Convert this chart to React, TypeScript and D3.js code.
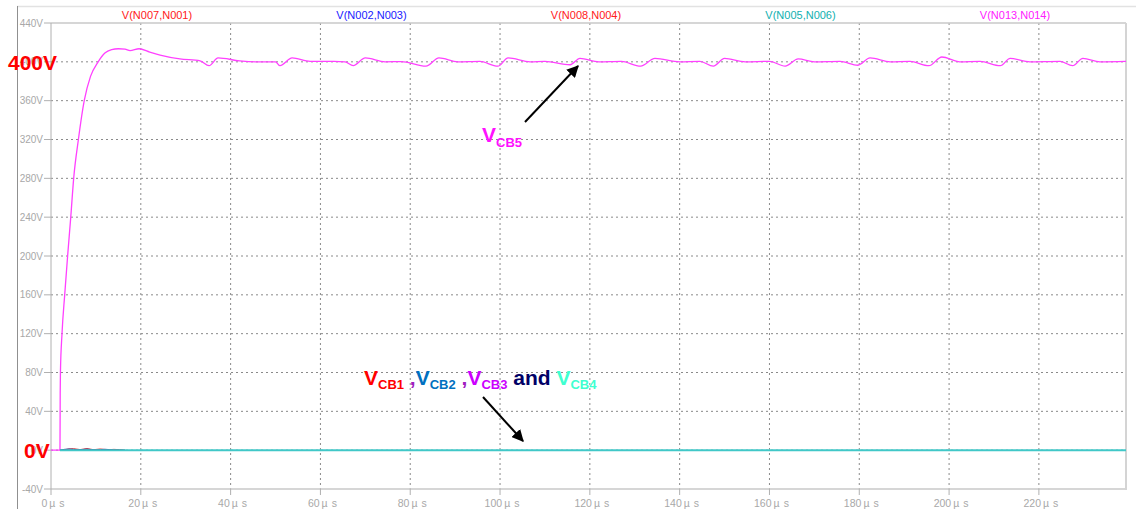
import React from "react";
import * as d3 from "d3";

const W = 1136;
const H = 509;

// time (µs), voltage (V)
const vcb5Time = [0, 2.0, 2.05, 2.1, 2.45, 3.05, 3.7, 4.4, 5.05, 6.1, 7.4, 8.8, 10.5, 12, 13.5, 15, 16.5, 17.6, 19.6, 22, 24.3, 28.7, 33.2, 35.2, 37.2, 42, 46, 50, 51, 53.7, 57.7, 63, 65.5, 67.3, 70, 74.4, 78, 83.5, 86.4, 90.6, 95.5, 99.5, 101.8, 106.7, 110, 115.6, 117.8, 122, 127, 131.3, 134.5, 140, 144.5, 147.5, 150, 154.6, 160, 163.5, 166.4, 170, 175.7, 179.7, 182.4, 186.9, 191.3, 195.5, 198.4, 202.4, 206.9, 211.4, 213.6, 218, 224.7, 227.5, 229.8, 233.6, 239.4];
const vcb5Volt = [0, 0, 58, 80, 120, 160, 200, 240, 280, 320, 360, 385, 400, 409, 412.5, 413.5, 413, 411.5, 413.5, 410, 407, 403, 401, 396, 404, 401, 400, 400, 396, 404, 400.5, 400.5, 400, 396, 404, 400, 400.3, 395.5, 404, 400, 400.5, 395.5, 404, 400, 400.5, 397, 403.5, 400, 400.5, 395.5, 403.5, 400, 400.5, 395.5, 403.5, 400, 400.5, 395.5, 403, 400, 400.5, 396.5, 404, 400, 400.5, 396, 405, 400, 400.5, 396, 403.5, 400, 400.5, 396, 403.5, 400, 400.5];

const redTime = [2.0, 3.5, 5, 6.5, 8, 9.5, 11, 12.5, 14, 16.5];
const redVolt = [0, 0.8, 1.5, 0.6, 1.6, 0.5, 1.2, 0.4, 0.8, 0];
const blueTime = [2.0, 4, 6, 8, 10, 12, 14, 16.5];
const blueVolt = [0, 1.2, 0.4, 1.0, 0.3, 0.9, 0.2, 0];
const tealTime = [2.0, 239.4];
const tealVolt = [0, 0];

const yTicks = [-40, 0, 40, 80, 120, 160, 200, 240, 280, 320, 360, 400, 440];
const xTicks = [0, 20, 40, 60, 80, 100, 120, 140, 160, 180, 200, 220];
const traceLabels = ["V(N007,N001)", "V(N002,N003)", "V(N008,N004)", "V(N005,N006)", "V(N013,N014)"];
const traceLabelColors = ["#ff2020", "#2020ff", "#ff2020", "#10b0b0", "#ff20ff"];

const x = d3.scaleLinear().domain([0, 239.4]).range([51, 1126]);
const y = d3.scaleLinear().domain([-40, 440]).range([489, 23]);

const line = d3
  .line<[number, number]>()
  .x((d) => x(d[0]))
  .y((d) => y(d[1]))
  .curve(d3.curveMonotoneX);

const zip = (a: number[], b: number[]) => a.map((t, i) => [t, b[i]] as [number, number]);

const FONT = "'Liberation Sans', Arial, sans-serif";

export default function App() {
  const [x0, x1] = x.range();
  const [yb, yt] = y.range();
  return (
    <svg
      width={W}
      height={H}
      style={{ position: "absolute", left: 0, top: 0, background: "#fff" }}
      fontFamily={FONT}
    >
      <defs>
        <marker id="ah" viewBox="0 0 10 10" refX="9" refY="5" markerWidth="6" markerHeight="6" orient="auto">
          <path d="M0,0 L10,5 L0,10 z" fill="#000" />
        </marker>
      </defs>
      <rect width={W} height={H} fill="#fff" />
      {/* window frame */}
      <line x1={17} x2={1136} y1={6.5} y2={6.5} stroke="#e2e2e2" strokeWidth={1.5} />
      <line x1={17.5} x2={17.5} y1={6} y2={H} stroke="#909090" strokeWidth={1} />

      {/* grid */}
      {yTicks.filter((v) => v > -40 && v < 440).map((v) => (
        <line key={"gy" + v} x1={x0} x2={x1} y1={y(v)} y2={y(v)} stroke="#8a8a8a" strokeWidth={1} strokeDasharray="2,3" />
      ))}
      {xTicks.filter((v) => v > 0).map((v) => (
        <line key={"gx" + v} x1={x(v)} x2={x(v)} y1={yt} y2={yb} stroke="#8a8a8a" strokeWidth={1} strokeDasharray="2,3" />
      ))}

      {/* plot frame */}
      <line x1={x0} x2={x1} y1={yt} y2={yt} stroke="#c8c8c8" strokeWidth={1.5} />
      <line x1={x0} x2={x1} y1={yb} y2={yb} stroke="#c8c8c8" strokeWidth={1.5} />
      <line x1={x0} x2={x0} y1={yt} y2={yb} stroke="#b0b0b0" strokeWidth={1} />
      <line x1={x1} x2={x1} y1={yt} y2={yb + 1} stroke="#d4d4d4" strokeWidth={2} />

      {/* ticks and labels */}
      {yTicks.map((v) => (
        <g key={"ty" + v}>
          <line x1={x0 - 7} x2={x0} y1={y(v)} y2={y(v)} stroke="#b0b0b0" />
          <text x={x0 - 8} y={y(v)} dy="0.35em" textAnchor="end" fontSize={10} fill="#a8a8a8">
            {v + "V"}
          </text>
        </g>
      ))}
      {xTicks.map((v) => (
        <g key={"tx" + v}>
          <line x1={x(v)} x2={x(v)} y1={yb} y2={yb + 6} stroke="#b0b0b0" />
          <text x={x(v) + 2} y={yb + 18} textAnchor="middle" fontSize={10.5} fill="#a8a8a8">
            {String(v)}
            <tspan dx={2}>µ</tspan>
            <tspan dx={4}>s</tspan>
          </text>
        </g>
      ))}

      {/* trace labels */}
      {traceLabels.map((t, i) => (
        <text key={t} x={157 + i * 214.5} y={19} textAnchor="middle" fontSize={11} fill={traceLabelColors[i]}>
          {t}
        </text>
      ))}

      {/* traces */}
      <path d={line(zip(vcb5Time, vcb5Volt)) || ""} fill="none" stroke="#ff40ff" strokeWidth={1.3} />
      <path d={line(zip(redTime, redVolt)) || ""} fill="none" stroke="#d03030" strokeWidth={1} />
      <path d={line(zip(blueTime, blueVolt)) || ""} fill="none" stroke="#303090" strokeWidth={1} />
      <path d={line(zip(tealTime, tealVolt)) || ""} fill="none" stroke="#40c8c8" strokeWidth={2} />

      {/* annotations */}
      <text x={8} y={y(400) + 8} fontSize={21} fontWeight="bold" fill="#ff0000">400V</text>
      <text x={24} y={y(0) + 8} fontSize={21} fontWeight="bold" fill="#ff0000">0V</text>

      <text x={482} y={142} fontWeight="bold" fill="#ff10ff">
        <tspan fontSize={21}>V</tspan>
        <tspan fontSize={13} dy={5}>CB5</tspan>
      </text>
      <line x1={525} y1={122} x2={578} y2={66} stroke="#000" strokeWidth={2} markerEnd="url(#ah)" />

      <text x={364} y={385} fontWeight="bold">
        <tspan fontSize={21} fill="#ff0000">V</tspan>
        <tspan fontSize={13} dy={4} fill="#ff0000">CB1</tspan>
        <tspan fontSize={21} dy={-4} fill="#a020c0"> ,</tspan>
        <tspan fontSize={21} fill="#0070c0">V</tspan>
        <tspan fontSize={13} dy={4} fill="#0070c0">CB2</tspan>
        <tspan fontSize={21} dy={-4} fill="#a020c0"> ,</tspan>
        <tspan fontSize={21} fill="#cc00ff">V</tspan>
        <tspan fontSize={13} dy={4} fill="#cc00ff">CB3</tspan>
        <tspan fontSize={21} dy={-4} fill="#000066"> and </tspan>
        <tspan fontSize={21} fill="#40ffd0">V</tspan>
        <tspan fontSize={13} dy={4} fill="#40ffd0">CB4</tspan>
      </text>
      <line x1={483} y1={397} x2={523} y2={441} stroke="#000" strokeWidth={2} markerEnd="url(#ah)" />
    </svg>
  );
}
